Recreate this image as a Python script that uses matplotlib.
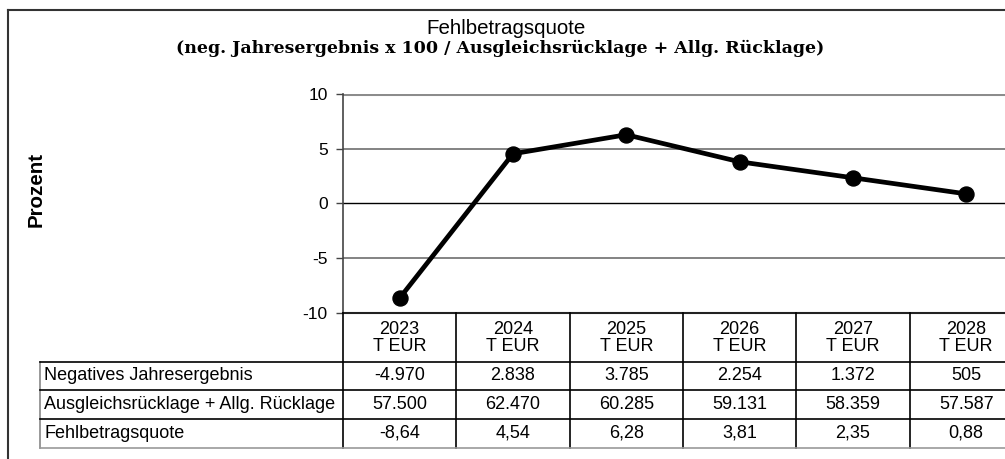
import matplotlib
matplotlib.use("Agg")
import matplotlib.pyplot as plt
import matplotlib.transforms as mtransforms
from matplotlib.lines import Line2D

years = ["2023", "2024", "2025", "2026", "2027", "2028"]
quote = [-8.64, 4.54, 6.28, 3.81, 2.35, 0.88]
row_labels = ["Negatives Jahresergebnis", "Ausgleichsrücklage + Allg. Rücklage", "Fehlbetragsquote"]
row_neg = ["-4.970", "2.838", "3.785", "2.254", "1.372", "505"]
row_rueck = ["57.500", "62.470", "60.285", "59.131", "58.359", "57.587"]
row_quote = ["-8,64", "4,54", "6,28", "3,81", "2,35", "0,88"]
yticks = [-10, -5, 0, 5, 10]

W, H = 1005, 459
plt.rcParams['font.family'] = ['Liberation Sans', 'DejaVu Sans']
fig = plt.figure(figsize=(W / 100, H / 100), dpi=100)

def fx(px):
    return px / W

def fy(py):
    return 1 - py / H

# plot area: left 343, top 94, bottom 313, category width ~113.3
left, top, bottom = 343, 94, 313
colw = 113.3
ax = fig.add_axes([fx(left), fy(bottom), fx(6 * colw), (bottom - top) / H])
ax.set_xlim(-0.5, 5.5)
ax.set_ylim(-10, 10)
x = list(range(len(years)))
for yv in yticks:
    if yv == 0:
        ax.axhline(yv, color='black', lw=1.0, zorder=1)
    elif yv == 10:
        ax.axhline(yv, color='#8c8c8c', lw=2.2, zorder=1)
    elif yv == -10:
        pass
    else:
        ax.axhline(yv, color='#6e6e6e', lw=1.2, zorder=1)
ax.plot(x, quote, color='black', lw=3.4, marker='o', markersize=10.8, zorder=3, clip_on=False)
for s in ['top', 'right']:
    ax.spines[s].set_visible(False)
ax.spines['left'].set_color('#444444')
ax.spines['left'].set_linewidth(1.2)
ax.spines['bottom'].set_color('#222222')
ax.spines['bottom'].set_linewidth(1.5)
ax.set_yticks(yticks)
ax.set_yticklabels([str(v) for v in yticks])
ax.tick_params(axis='y', length=5, width=1, color='#444444', labelsize=12.5, pad=6)
ax.set_xticks([])

# title
fig.text(fx(506), fy(29), "Fehlbetragsquote", ha='center', va='center', fontsize=14.8)
t2 = fig.text(fx(500), fy(48), "(neg. Jahresergebnis x 100 / Ausgleichsrücklage + Allg. Rücklage)",
              ha='center', va='center', fontsize=12.5, fontweight='bold', family=['DejaVu Serif'])
fig.canvas.draw()
bb = t2.get_window_extent()
t2.set_fontsize(12.5 * 651 / bb.width)

# y label
fig.text(fx(36), fy(189), "Prozent", rotation=90, ha='center', va='center', fontsize=14.8, fontweight='bold')

# outer frame
fig.add_artist(Line2D([fx(8), fx(8)], [fy(10), 0], transform=fig.transFigure, color='#333333', lw=1.5))
fig.add_artist(Line2D([fx(8), 1], [fy(10), fy(10)], transform=fig.transFigure, color='#333333', lw=1.5))

# table
bt = mtransforms.blended_transform_factory(ax.transData, fig.transFigure)
row_y = [362, 390, 419, 448]
for b in [-0.5 + i for i in range(6)]:
    fig.add_artist(Line2D([b, b], [fy(313), fy(448)], transform=bt, color='black', lw=1.2))
fig.add_artist(Line2D([fx(40), fx(40)], [fy(362), fy(448)], transform=fig.transFigure, color='#888888', lw=1.2))
for i, ry in enumerate(row_y):
    col = '#999999' if i == 3 else 'black'
    fig.add_artist(Line2D([fx(40), 1], [fy(ry), fy(ry)], transform=fig.transFigure, color=col, lw=1.2))

for i, yr in enumerate(years):
    fig.text(i, fy(338), yr + "\nT EUR", transform=bt, ha='center', va='center', fontsize=13, linespacing=1.0)

rows = [row_neg, row_rueck, row_quote]
for r, (lab, vals) in enumerate(zip(row_labels, rows)):
    cy = (row_y[r] + row_y[r + 1]) / 2
    fig.text(fx(44), fy(cy), lab, ha='left', va='center', fontsize=13)
    for i, v in enumerate(vals):
        fig.text(i, fy(cy), v, transform=bt, ha='center', va='center', fontsize=13)

fig.savefig("out.png", dpi=100)
